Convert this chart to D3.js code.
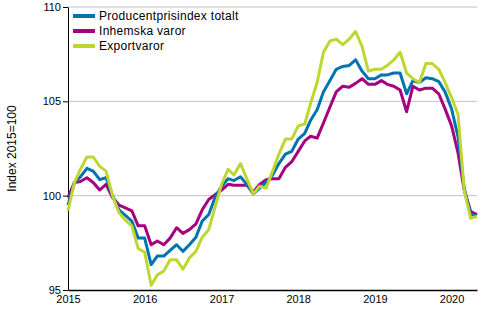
<!DOCTYPE html>
<html>
<head>
<meta charset="utf-8">
<script src="https://cdn.jsdelivr.net/npm/d3@7"></script>
<style>
  body { margin: 0; background: #fff; }
  svg { font-family: "Liberation Sans", Arial, sans-serif; }
</style>
</head>
<body>
<svg id="chart" width="500" height="330"></svg>
<script>
// Monthly index values, Jan 2015 .. May 2020
const startMonth = new Date(2015, 0, 1);

const totalt = [99.5, 100.7, 101.0, 101.45, 101.3, 100.85, 100.95, 100.0, 99.25, 98.95, 98.65, 97.75,
  97.75, 96.35, 96.8, 96.8, 97.1, 97.4, 97.05, 97.4, 97.8, 98.65, 99.0, 99.9,
  100.5, 100.9, 100.8, 101.0, 100.6, 100.1, 100.4, 100.7, 101.1, 101.7, 102.2, 102.35,
  103.0, 103.3, 104.0, 104.55, 105.5, 106.1, 106.7, 106.85, 106.9, 107.2, 106.6, 106.2,
  106.2, 106.4, 106.4, 106.5, 106.5, 105.4, 106.1, 106.0, 106.25, 106.2, 106.05, 105.5,
  104.6, 103.1, 100.4, 99.0, 98.95];

const inhemska = [99.9, 100.7, 100.75, 100.95, 100.7, 100.3, 100.6, 99.9, 99.5, 99.35, 99.2, 98.4,
  98.4, 97.4, 97.6, 97.4, 97.75, 98.3, 98.0, 98.2, 98.5, 99.25, 99.8, 100.05,
  100.3, 100.6, 100.55, 100.55, 100.55, 100.2, 100.6, 100.85, 100.9, 100.9, 101.5, 101.8,
  102.35, 102.9, 103.15, 103.05, 103.85, 104.7, 105.5, 105.8, 105.75, 105.95, 106.2, 105.9,
  105.9, 106.1, 105.9, 105.8, 105.6, 104.45, 105.8, 105.6, 105.7, 105.7, 105.4, 104.6,
  103.7, 102.25, 100.3, 99.15, 99.0];

const export_ = [99.2, 100.7, 101.4, 102.05, 102.05, 101.55, 101.3, 100.0, 99.1, 98.7, 98.4, 97.2,
  97.0, 95.25, 95.8, 96.0, 96.6, 96.6, 96.1, 96.7, 97.05, 97.8, 98.2, 99.4,
  100.6, 101.4, 101.1, 101.7, 100.9, 100.1, 100.5, 100.4, 101.3, 102.2, 103.0, 103.0,
  103.7, 103.8, 104.9, 106.0, 107.6, 108.2, 108.3, 108.0, 108.3, 108.7, 107.9, 106.6,
  106.7, 106.7, 106.9, 107.2, 107.6, 106.5, 106.2, 106.0, 107.0, 107.0, 106.7, 106.0,
  105.2, 104.3, 100.3, 98.8, 98.9];

const seriesNames = ["Producentprisindex totalt", "Inhemska varor", "Exportvaror"];
const seriesColors = ["#0073b0", "#a5007d", "#bed730"];
const yTicks = [95, 100, 105, 110];
const yLabel = "Index 2015=100";

const series = [totalt, inhemska, export_].map((vals, i) => ({
  name: seriesNames[i],
  color: seriesColors[i],
  values: vals.map((v, m) => ({ date: d3.timeMonth.offset(startMonth, m), value: v }))
}));

const margin = { left: 68, right: 23, top: 7, bottom: 40 };
const width = 500, height = 330;
const svg = d3.select("#chart");

const x = d3.scaleTime()
  .domain([startMonth, d3.timeMonth.offset(startMonth, totalt.length - 1)])
  .range([margin.left, width - margin.right]);

const y = d3.scaleLinear()
  .domain([95, 110])
  .range([height - margin.bottom, margin.top]);

// gridlines
svg.append("g")
  .selectAll("line")
  .data(yTicks.slice(1))
  .enter().append("line")
  .attr("x1", margin.left)
  .attr("x2", width - margin.right)
  .attr("y1", d => y(d))
  .attr("y2", d => y(d))
  .attr("stroke", "#c0c0c0")
  .attr("stroke-width", 1);

// axes
const yAxis = svg.append("g")
  .attr("transform", `translate(${margin.left},0)`)
  .call(d3.axisLeft(y).tickValues(yTicks).tickSize(5).tickPadding(2).tickSizeOuter(0));
yAxis.select(".domain").attr("stroke", "#000");
yAxis.selectAll("text").attr("font-size", 11).attr("fill", "#000");

const xAxis = svg.append("g")
  .attr("transform", `translate(0,${height - margin.bottom})`)
  .call(d3.axisBottom(x).ticks(d3.timeYear.every(1)).tickFormat(d3.timeFormat("%Y")).tickSize(0).tickPadding(5));
xAxis.select(".domain").attr("stroke", "#000").attr("stroke-width", 1.5);
xAxis.selectAll("text").attr("font-size", 11).attr("fill", "#000");

svg.append("text")
  .attr("transform", `translate(16,${(margin.top + height - margin.bottom) / 2}) rotate(-90)`)
  .attr("text-anchor", "middle")
  .attr("font-size", 12)
  .text(yLabel);

// lines
const line = d3.line()
  .x(d => x(d.date))
  .y(d => y(d.value));

const drawOrder = [1, 0, 2];
svg.append("g")
  .selectAll("path")
  .data(drawOrder.map(i => series[i]))
  .enter().append("path")
  .attr("d", d => line(d.values))
  .attr("fill", "none")
  .attr("stroke", d => d.color)
  .attr("stroke-width", 3)
  .attr("stroke-linejoin", "round");

// legend
const legend = svg.append("g").attr("transform", "translate(73,16)");
const rows = legend.selectAll("g")
  .data(series)
  .enter().append("g")
  .attr("transform", (d, i) => `translate(0,${i * 15})`);
rows.append("line")
  .attr("x1", 0).attr("x2", 22)
  .attr("stroke", d => d.color)
  .attr("stroke-width", 4);
rows.append("text")
  .attr("x", 26)
  .attr("dy", "0.35em")
  .attr("font-size", 12)
  .attr("letter-spacing", 0.3)
  .text(d => d.name);
</script>
</body>
</html>
